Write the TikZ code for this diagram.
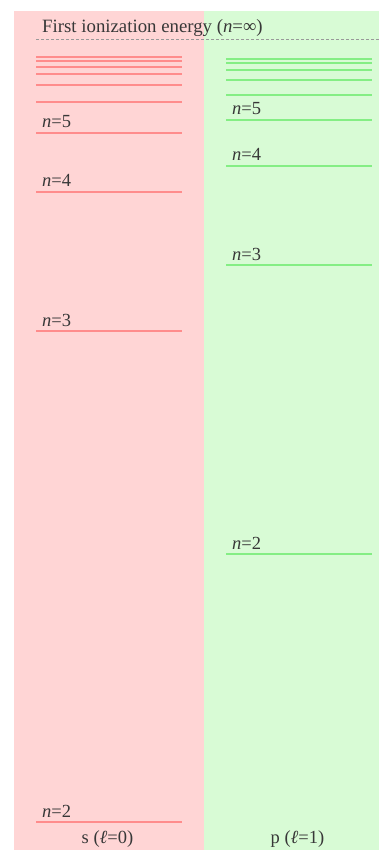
\documentclass[tikz,border=0pt]{standalone}
\usepackage{fontspec}
\setmainfont{Liberation Serif}
\definecolor{pinkbg}{HTML}{FFD5D5}
\definecolor{greenbg}{HTML}{D8FBD5}
\definecolor{redlvl}{HTML}{FF8C8C}
\definecolor{greenlvl}{HTML}{84EE84}
\definecolor{txt}{HTML}{383838}
\begin{document}
\begin{tikzpicture}[x=1pt,y=-1pt,
  lvlred/.style={draw=redlvl,line width=2pt},
  lvlgreen/.style={draw=greenlvl,line width=2pt},
  lbl/.style={anchor=base west,inner sep=0pt,text=txt,font=\fontsize{18.5}{18.5}\selectfont},
  foot/.style={anchor=base,inner sep=0pt,text=txt,font=\fontsize{18.5}{18.5}\selectfont}]
\useasboundingbox (0,0) rectangle (379,850);
\fill[pinkbg] (13.5,11) rectangle (204,850);
\fill[greenbg] (204,11) rectangle (379,850);
% ionization limit
\draw[gray!80,line width=1pt,dash pattern=on 3pt off 2pt] (36,40) -- (379,40);
\node[lbl,font=\fontsize{18.8}{18.8}\selectfont] (title) at (42,33) {First ionization energy (\textit{n}=∞)};
% s levels
\foreach \y in {57,61,67,74,85,102,133,192,331,822}
  \draw[lvlred] (36,\y) -- (182,\y);
% p levels
\foreach \y in {59,63,70,80,95,120,166,265,554}
  \draw[lvlgreen] (226,\y) -- (372,\y);
% labels s
\node[lbl] (s5) at (42,128) {\textit{n}=5};
\node[lbl] (s4) at (42,187) {\textit{n}=4};
\node[lbl] (s3) at (42,326.5) {\textit{n}=3};
\node[lbl] (s2) at (42,817) {\textit{n}=2};
% labels p
\node[lbl] (p5) at (232,115) {\textit{n}=5};
\node[lbl] (p4) at (232,161) {\textit{n}=4};
\node[lbl] (p3) at (232,260.5) {\textit{n}=3};
\node[lbl] (p2) at (232,549) {\textit{n}=2};
% footers
\node[foot] (sl) at (107.5,843) {s (\textit{ℓ}=0)};
\node[foot] (pl) at (297.5,843) {p (\textit{ℓ}=1)};
\end{tikzpicture}
\end{document}
